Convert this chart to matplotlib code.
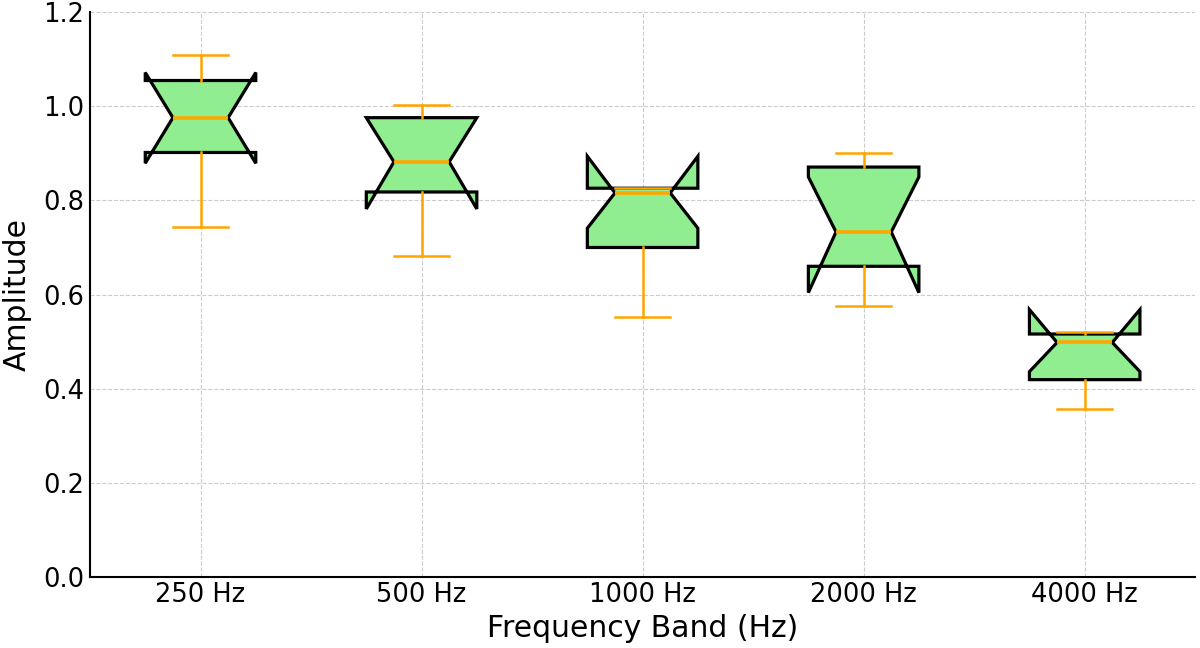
import matplotlib
matplotlib.use("Agg")
import matplotlib.pyplot as plt

bands = ["250 Hz", "500 Hz", "1000 Hz", "2000 Hz", "4000 Hz"]
medians = [0.976, 0.882, 0.816, 0.733, 0.498]
q1 = [0.902, 0.818, 0.700, 0.660, 0.419]
q3 = [1.055, 0.976, 0.826, 0.871, 0.516]
whis_lo = [0.743, 0.682, 0.553, 0.575, 0.357]
whis_hi = [1.110, 1.002, 0.826, 0.901, 0.521]
ci_lo = [0.879, 0.782, 0.741, 0.604, 0.436]
ci_hi = [1.072, 0.976, 0.894, 0.850, 0.568]

stats = []
for i, name in enumerate(bands):
    stats.append({
        "label": name,
        "med": medians[i],
        "q1": q1[i],
        "q3": q3[i],
        "whislo": whis_lo[i],
        "whishi": whis_hi[i],
        "cilo": ci_lo[i],
        "cihi": ci_hi[i],
        "fliers": [],
    })

fig, ax = plt.subplots(figsize=(12, 6.48), dpi=100)
fig.subplots_adjust(left=0.075, right=0.996, bottom=0.11, top=0.981)

ax.bxp(stats, shownotches=True, patch_artist=True, showfliers=False,
       boxprops=dict(facecolor="lightgreen", edgecolor="black", linewidth=2.3),
       medianprops=dict(color="orange", linewidth=2.6),
       whiskerprops=dict(color="orange", linewidth=1.8),
       capprops=dict(color="orange", linewidth=1.8))

ax.set_ylim(0, 1.2)
ax.set_xlim(0.5, 5.5)
ax.grid(True, linestyle="--", color="#cccccc", linewidth=0.8)
ax.set_axisbelow(True)
for side in ["top", "right"]:
    ax.spines[side].set_visible(False)
ax.spines["left"].set_linewidth(1.5)
ax.spines["bottom"].set_linewidth(1.5)
ax.tick_params(length=0, labelsize=18.5, pad=4)
ax.set_xlabel("Frequency Band (Hz)", fontsize=21.5, labelpad=4)
ax.set_ylabel("Amplitude", fontsize=21.5, labelpad=8)

fig.savefig("out.png")
